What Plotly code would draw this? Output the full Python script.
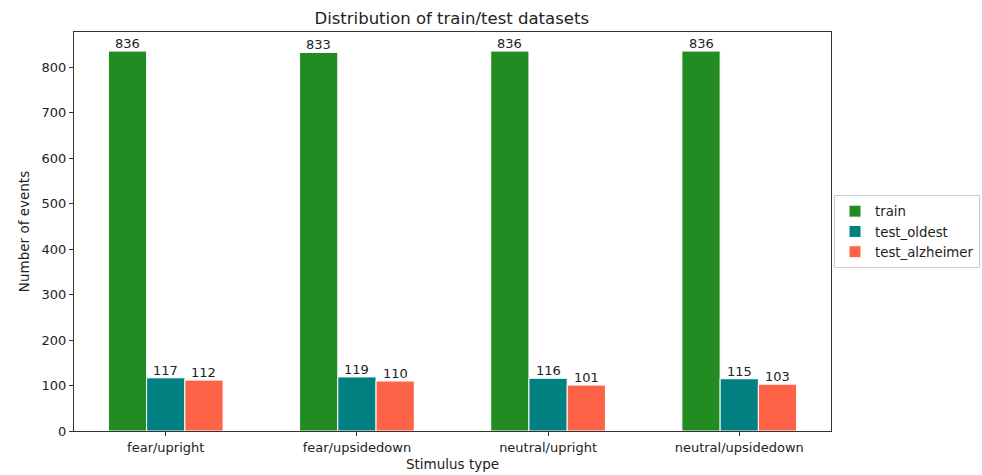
import plotly.graph_objects as go

categories = ["fear/upright", "fear/upsidedown", "neutral/upright", "neutral/upsidedown"]
train = [836, 833, 836, 836]
test_oldest = [117, 119, 116, 115]
test_alzheimer = [112, 110, 101, 103]

series = [("train", train, "#228B22"), ("test_oldest", test_oldest, "#008080"),
          ("test_alzheimer", test_alzheimer, "#FF6347")]
offsets = [-0.2, 0.0, 0.2]

font = "DejaVu Sans, Verdana, sans-serif"
fig = go.Figure()
for (name, vals, color), off in zip(series, offsets):
    fig.add_trace(go.Bar(
        x=categories, y=vals, name=name,
        marker=dict(color=color, line=dict(color="white", width=1)),
    ))
    for i, v in enumerate(vals):
        fig.add_annotation(x=i + off, y=v, xref="x", yref="y", text=str(v),
                           showarrow=False, yanchor="bottom", yshift=-2,
                           font=dict(size=13, color="#222222", family=font))

fig.update_layout(
    width=982, height=475,
    margin=dict(l=74, r=151, t=32, b=44, autoexpand=False),
    barmode="group", bargap=0.4, bargroupgap=0,
    plot_bgcolor="white", paper_bgcolor="white",
    font=dict(family=font, size=13, color="#222222"),
    title=dict(text="Distribution of train/test datasets", x=0.46, xanchor="center",
               y=0.962, yanchor="middle", font=dict(size=16.5, family=font, color="#222222")),
    legend=dict(x=1.004, y=0.5, xanchor="left", yanchor="middle",
                bordercolor="#cccccc", borderwidth=1, font=dict(size=13.3),
                itemwidth=30, tracegroupgap=0),
)
fig.update_xaxes(
    title=dict(text="Stimulus type", standoff=5, font=dict(size=13.5)),
    range=[-0.48, 3.48], showline=True, linecolor="#333333", linewidth=1, mirror=True,
    ticks="outside", ticklen=4, tickcolor="#333333", showgrid=False,
)
fig.update_yaxes(
    title=dict(text="Number of events", standoff=8, font=dict(size=13.5)),
    range=[0, 878], showline=True, linecolor="#333333", linewidth=1, mirror=True,
    ticks="outside", ticklen=4, tickcolor="#333333", showgrid=False,
    tickvals=[0, 100, 200, 300, 400, 500, 600, 700, 800], zeroline=False,
)
fig.write_html("out.html", config={"displayModeBar": False},
               post_script="document.body.style.margin='0';document.body.style.overflow='hidden';")
